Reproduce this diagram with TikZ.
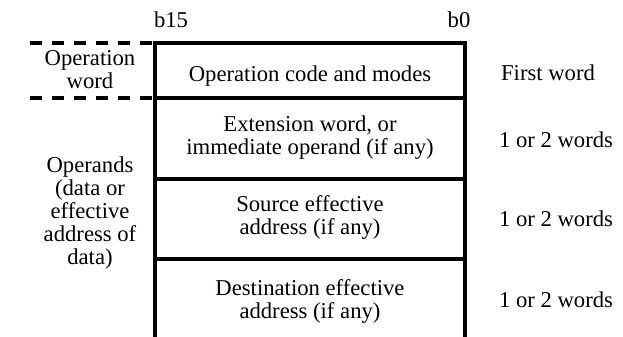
\documentclass[tikz,border=0pt]{standalone}
\usepackage{fontspec}
\setmainfont{Liberation Serif}
\begin{document}
\begin{tikzpicture}[x=0.75pt,y=-0.75pt,
  txt/.style={font=\fontsize{17}{17.25}\selectfont, inner sep=0pt, align=center},
  cell/.style={draw, line width=2.3pt, minimum width=232.5pt, inner sep=0pt, outer sep=0pt},
  sideline/.style={line width=2.3pt},
  dashline/.style={line width=2.4pt, dash pattern=on 9pt off 7.5pt}]
  % page frame
  \fill[white] (0,0) rectangle (623,336);
  \useasboundingbox (0,0) rectangle (623,336);

  % bit numbering over the word
  \node[txt] (b15) at (171,20) {b15};
  \node[txt] (b0) at (459,20) {b0};

  % instruction word cells
  \node[cell, minimum height=41.25pt] (op) at (310,70.5) {};
  \node[cell, minimum height=60.75pt] (ext) at (310,138.5) {};
  \node[cell, minimum height=60pt] (src) at (310,219) {};
  % last cell runs off the bottom edge: open at the foot
  \coordinate (dstbl) at (155,340);
  \coordinate (dstbr) at (465,340);
  \draw[sideline] (dstbl) -- (src.south west) -- (src.south east) -- (dstbr);

  \node[txt] at ([yshift=-4.5pt]op.center) {Operation code and modes};
  \node[txt] at ([yshift=1pt]ext.center) {Extension word, or\\immediate operand (if any)};
  \node[txt] at ([yshift=1pt]src.center) {Source effective\\address (if any)};
  \node[txt] (dst) at (310,301) {Destination effective\\address (if any)};

  % operation word bracket
  \coordinate (dtop) at (30,43);
  \coordinate (dbot) at (30,98);
  \draw[dashline] (dtop) -- (op.north west);
  \draw[dashline] (dbot) -- (op.south west);

  % left-hand descriptions
  \node[txt] (opw) at (90,70) {Operation\\word};
  \node[txt] (opd) at (90,213) {Operands\\(data or\\effective\\address of\\data)};

  % right-hand word counts
  \node[txt] (fw) at (548,73) {First word};
  \node[txt] (n1) at (556,140) {1 or 2 words};
  \node[txt] (n2) at (556,219) {1 or 2 words};
  \node[txt] (n3) at (556,300) {1 or 2 words};
\end{tikzpicture}
\end{document}
